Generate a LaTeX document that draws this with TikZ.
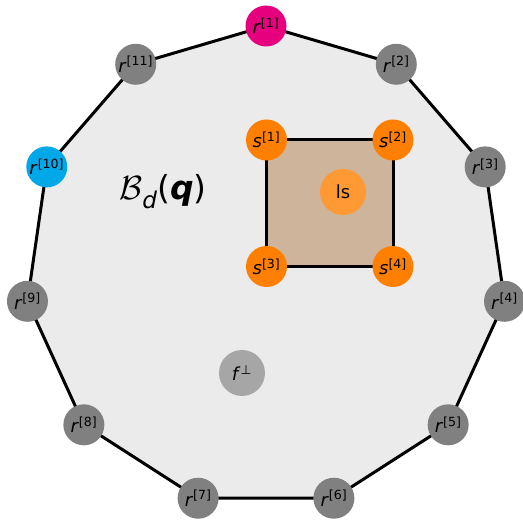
\documentclass[tikz,border=0pt]{standalone}
\usepackage{fontspec}
\setmainfont{DejaVu Sans}
\usetikzlibrary{backgrounds}
\definecolor{polyfill}{HTML}{EBEBEB}
\definecolor{sqfill}{HTML}{CDB49A}
\definecolor{rgray}{HTML}{808080}
\definecolor{rmag}{HTML}{E6007E}
\definecolor{rcyan}{HTML}{00A8E8}
\definecolor{sorange}{HTML}{FF8000}
\definecolor{lsorange}{HTML}{FF9933}
\definecolor{fgray}{HTML}{A6A6A6}
\tikzset{
	vtx/.style={circle, minimum size=41pt, inner sep=0pt, font=\fontsize{18}{20}\selectfont},
	bigvtx/.style={vtx, minimum size=46pt},
	edge/.style={line width=3pt, line join=round}
}
\newcommand{\rlab}[1]{\textit{r}\textsuperscript{[#1]}}
\newcommand{\slab}[1]{\textit{s}\textsuperscript{[#1]}}

\begin{document}
\begin{tikzpicture}[x=1pt,y=1pt]
	\useasboundingbox (0,0) rectangle (523,520);

	% corners of the polygon
	\foreach \i/\c in {1/rmag,2/rgray,3/rgray,4/rgray,5/rgray,6/rgray,7/rgray,8/rgray,9/rgray,10/rcyan,11/rgray}
		\node[vtx, fill=\c] (r\i) at ({266+241*sin((\i-1)*360/11)}, {253+241*cos((\i-1)*360/11)}) {\rlab{\i}};

	% square
	\node[vtx, fill=sorange] (s1) at (266.5,380) {\slab{1}};
	\node[vtx, fill=sorange] (s2) at (393,380) {\slab{2}};
	\node[vtx, fill=sorange] (s3) at (266.5,253.5) {\slab{3}};
	\node[vtx, fill=sorange] (s4) at (393,253.5) {\slab{4}};
	\node[bigvtx, fill=lsorange] (ls) at (343,328) {ls};

	\node[bigvtx, fill=fgray] (fperp) at (242,147) {\textit{f}\textsuperscript{⊥}};
	\node[font=\fontsize{33}{36}\selectfont] (ball) at (163,328) {\scalebox{1.35}{$\mathcal{B}$}\textsubscript{\itshape d}(\textbf{\textit{q}})};

	\begin{scope}[on background layer]
		\draw[edge, fill=polyfill] (r1.center) \foreach \i in {2,...,11}{ -- (r\i.center)} -- cycle;
		\draw[edge, fill=sqfill] (s1.center) -- (s2.center) -- (s4.center) -- (s3.center) -- cycle;
	\end{scope}
\end{tikzpicture}
\end{document}
